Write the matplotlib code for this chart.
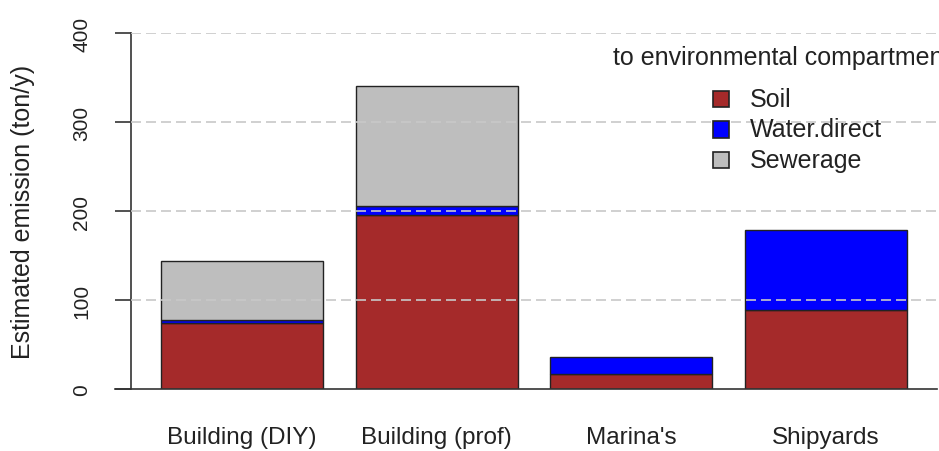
import matplotlib.pyplot as plt
from matplotlib.patches import Rectangle
import numpy as np

plt.rcParams['font.family'] = ['Liberation Sans', 'DejaVu Sans']

# Data (ton/y)
categories = ["Building (DIY)", "Building (prof)", "Marina's", "Shipyards"]
soil = [74, 195, 17, 89]
water_direct = [4, 11, 19, 90]
sewerage = [66, 135, 0, 0]
series_names = ['Soil', 'Water.direct', 'Sewerage']
series_colors = ['#A52A2A', '#0000FF', '#BEBEBE']
y_ticks = [0, 100, 200, 300, 400]

W, H = 939, 452
fig = plt.figure(figsize=(W / 100, H / 100), dpi=100)
ax = fig.add_axes([131 / W, (H - 390) / H, 806 / W, 356 / H])

# R barplot style positions: width 1, space 0.2
x = 0.7 + 1.2 * np.arange(len(categories))
bottom = np.zeros(len(categories))
for vals, col in zip([soil, water_direct, sewerage], series_colors):
    vals = np.array(vals, dtype=float)
    mask = vals > 0
    ax.bar(x[mask], vals[mask], bottom=bottom[mask], width=1.0, color=col,
           edgecolor='#222222', linewidth=1.0, zorder=2)
    bottom += vals

ax.set_xlim(0.016, 4.984)
ax.set_ylim(0, 400)

# dashed grid on top of the bars
for t in y_ticks[1:]:
    ax.axhline(t, color='#C8C8C8', linestyle=(0, (6, 3)), linewidth=1.2, zorder=3)

# baseline running a bit left of the axis, like the reference
ax.plot([-16 / 806, 1], [0, 0], transform=ax.get_yaxis_transform(), color='#333333',
        linewidth=1.2, clip_on=False, zorder=4)

for s in ['top', 'right', 'bottom']:
    ax.spines[s].set_visible(False)
ax.spines['left'].set_bounds(0, 400)
ax.spines['left'].set_color('#333333')
ax.spines['left'].set_linewidth(1.2)

ax.set_yticks(y_ticks)
ax.set_yticklabels([str(t) for t in y_ticks], rotation=90, va='center', fontsize=15, color='#222222')
ax.tick_params(axis='y', length=11.5, width=1.2, color='#333333', pad=17)
ax.set_xticks(x)
ax.set_xticklabels(categories, fontsize=17.5, color='#222222')
ax.tick_params(axis='x', length=0, pad=27)

fig.text(23 / W, 1 - 212 / H, 'Estimated emission (ton/y)', rotation=90, ha='center', va='center',
         fontsize=18, color='#222222')

# legend without frame, title clipped at the right edge as in the reference
fig.text(613 / W, 1 - 58 / H, 'to environmental compartment', ha='left', va='center',
         fontsize=18, color='#222222')
for i, (name, col) in enumerate(zip(series_names, series_colors)):
    yc = 100 + 30.5 * i
    fig.patches.append(Rectangle((713 / W, 1 - (yc + 8) / H), 16 / W, 16 / H, transform=fig.transFigure,
                                 facecolor=col, edgecolor='#222222', linewidth=1.2))
    fig.text(750 / W, 1 - yc / H, name, ha='left', va='center', fontsize=18, color='#222222')

plt.savefig('out.png', dpi=100)
